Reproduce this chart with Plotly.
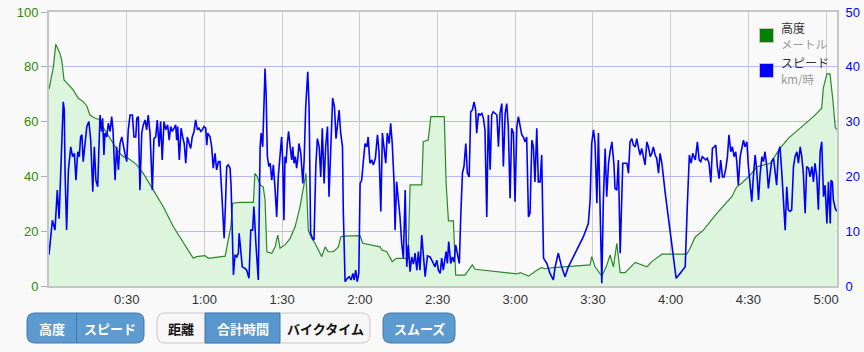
import plotly.graph_objects as go

# ---------------- data ----------------
tick_vals = [30, 60, 90, 120, 150, 180, 210, 240, 270, 300]
tick_text = ["0:30", "1:00", "1:30", "2:00", "2:30", "3:00", "3:30", "4:00", "4:30", "5:00"]

# elevation (m) vs elapsed time (min)
elev_t = [
    0.0, 1.0, 1.7, 2.6, 4.2, 4.9, 5.8, 6.8, 9.4, 11.3,
    13.2, 14.6, 15.8, 17.8, 19.4, 20.3, 22.3, 24.8, 26.8, 28.7,
    30.6, 33.9, 36.4, 40.3, 44.1, 48.0, 51.9, 55.7, 57.0, 60.2,
    61.5, 67.3, 68.0, 69.2, 70.2, 70.9, 73.7, 78.9, 79.5, 80.3,
    81.5, 82.7, 83.4, 84.1, 86.0, 87.3, 88.3, 89.2, 91.1, 93.1,
    95.0, 96.9, 98.2, 99.2, 100.1, 101.4, 102.7, 104.0, 105.3, 106.6,
    107.8, 109.8, 111.7, 112.7, 113.6, 120.1, 121.1, 127.8, 128.5, 130.4,
    132.5, 134.2, 137.5, 138.6, 139.4, 143.9, 144.5, 146.4, 147.4, 152.6,
    153.3, 154.2, 156.1, 157.0, 160.6, 163.4, 164.5, 180.6, 181.9, 185.1,
    188.9, 190.2, 191.5, 194.7, 208.9, 209.5, 210.8, 213.4, 215.1, 216.6,
    217.9, 219.2, 220.5, 222.4, 226.3, 230.8, 232.7, 236.6, 246.2, 247.5,
    249.4, 252.6, 257.8, 263.6, 265.5, 267.5, 270.7, 273.2, 278.4, 282.2,
    285.4, 291.2, 295.1, 298.3, 298.9, 300.3, 301.5, 302.6, 303.5, 304.1,
]
elev_v = [
    71.8, 77.6, 80.0, 88.2, 84.9, 82.5, 75.2, 74.2, 71.5, 68.5,
    67.3, 65.7, 62.4, 61.2, 60.8, 58.8, 55.7, 52.1, 49.0, 47.2,
    46.6, 44.2, 41.1, 35.0, 28.9, 21.6, 15.6, 10.1, 10.7, 11.1,
    10.1, 10.7, 10.9, 16.8, 21.6, 30.2, 30.5, 30.5, 41.1, 40.0,
    36.9, 36.2, 31.4, 12.5, 11.9, 14.3, 18.6, 13.8, 15.0, 17.4,
    21.6, 28.9, 36.2, 41.1, 20.4, 17.4, 15.6, 13.1, 10.7, 14.3,
    12.5, 12.5, 14.3, 18.0, 18.2, 18.4, 15.6, 14.3, 13.1, 12.5,
    8.9, 10.1, 10.1, 10.1, 36.9, 36.9, 52.7, 53.3, 61.8, 61.8,
    37.5, 23.8, 23.8, 4.0, 4.0, 7.7, 6.1, 4.4, 4.9, 3.6,
    6.1, 6.7, 6.3, 6.7, 7.7, 10.7, 7.0, 3.6, 7.0, 11.3,
    7.0, 15.6, 4.9, 4.9, 8.6, 7.0, 8.9, 11.6, 11.6, 13.8,
    17.8, 20.4, 26.5, 32.6, 36.2, 37.6, 40.5, 43.5, 44.8, 50.2,
    53.9, 58.8, 61.8, 64.9, 72.1, 77.4, 77.4, 67.9, 58.1, 57.0,
]

# speed (km/h) vs elapsed time (min)
speed_t = [
    0.0, 1.3, 2.3, 3.2, 3.9, 4.5, 4.9, 5.5, 5.9, 6.2,
    6.8, 7.5, 8.4, 9.1, 9.8, 10.4, 11.1, 11.7, 12.2, 12.7,
    13.2, 13.9, 14.6, 15.4, 16.1, 16.9, 17.5, 18.1, 18.8, 19.7,
    20.3, 20.7, 21.2, 21.6, 22.3, 22.9, 23.6, 24.2, 24.7, 25.5,
    26.1, 26.8, 27.4, 28.1, 28.7, 29.3, 30.0, 30.6, 31.3, 32.2,
    32.8, 33.5, 33.9, 34.5, 35.1, 35.8, 36.4, 37.1, 37.7, 38.3,
    39.0, 39.9, 40.5, 41.2, 41.8, 42.5, 43.1, 43.7, 44.4, 45.1,
    45.8, 46.4, 47.0, 47.6, 48.3, 48.9, 49.3, 49.7, 50.3, 51.0,
    51.6, 52.2, 52.8, 53.4, 54.1, 54.7, 55.3, 56.0, 56.6, 57.3,
    57.9, 58.6, 59.2, 59.8, 60.5, 60.9, 61.3, 62.2, 62.8, 63.4,
    64.1, 64.7, 65.4, 66.0, 66.7, 67.6, 68.1, 68.6, 69.2, 69.9,
    70.3, 70.7, 71.2, 71.8, 72.5, 73.1, 73.4, 74.0, 74.6, 75.7,
    76.3, 77.2, 77.9, 78.6, 79.1, 79.9, 80.8, 81.5, 81.9, 82.5,
    83.4, 83.8, 84.3, 84.9, 85.4, 86.0, 86.6, 87.3, 87.9, 88.5,
    89.2, 89.8, 90.2, 90.7, 91.1, 91.5, 92.0, 92.5, 93.1, 93.7,
    94.1, 94.6, 95.1, 95.6, 96.0, 96.5, 97.2, 98.0, 98.5, 99.1,
    99.9, 100.4, 101.0, 101.7, 102.3, 103.0, 103.6, 104.3, 104.9, 105.5,
    106.2, 106.8, 107.5, 108.1, 108.8, 109.5, 110.2, 110.8, 111.3, 112.0,
    112.6, 113.3, 113.6, 114.3, 115.2, 115.9, 116.6, 117.3, 117.8, 118.4,
    119.0, 119.6, 120.1, 120.7, 121.4, 122.0, 122.7, 123.2, 123.9, 124.6,
    125.2, 126.0, 126.8, 127.4, 128.1, 128.7, 129.3, 130.0, 130.6, 131.3,
    131.9, 132.5, 133.2, 133.6, 134.2, 134.9, 135.5, 136.2, 136.8, 137.5,
    138.1, 138.7, 139.4, 140.0, 140.7, 141.3, 142.0, 142.6, 143.2, 143.9,
    144.5, 145.2, 146.1, 147.1, 148.1, 149.0, 149.7, 150.3, 151.0, 151.6,
    152.2, 152.6, 153.3, 153.8, 154.3, 155.1, 155.7, 156.4, 157.0, 157.6,
    158.4, 159.0, 159.6, 160.2, 160.9, 161.5, 162.2, 162.8, 163.4, 164.1,
    164.7, 165.1, 165.8, 166.4, 167.1, 167.7, 168.3, 169.0, 169.6, 170.3,
    170.9, 171.5, 172.2, 172.9, 173.5, 174.1, 174.8, 175.4, 176.1, 176.7,
    177.3, 178.0, 178.6, 179.3, 179.9, 180.6, 181.2, 181.9, 182.5, 183.1,
    183.8, 184.4, 185.1, 185.7, 186.4, 187.0, 187.6, 188.3, 188.9, 189.6,
    190.2, 190.9, 192.2, 193.4, 194.7, 195.4, 196.6, 197.9, 199.2, 200.5,
    202.4, 204.4, 206.3, 208.2, 208.9, 209.5, 210.2, 210.8, 211.5, 212.1,
    212.7, 213.4, 214.0, 214.7, 215.3, 216.0, 216.6, 217.3, 218.1, 218.5,
    219.2, 219.8, 220.5, 221.5, 222.4, 223.1, 223.7, 224.3, 225.0, 225.6,
    226.3, 226.9, 227.6, 228.2, 228.8, 229.5, 230.1, 230.8, 231.4, 232.1,
    232.7, 233.3, 234.0, 234.6, 235.3, 235.9, 236.6, 237.9, 239.8, 241.0,
    242.1, 243.6, 245.6, 246.4, 247.2, 247.9, 248.5, 249.0, 249.5, 250.3,
    251.0, 251.6, 252.2, 252.9, 253.5, 254.1, 254.8, 255.5, 256.1, 256.8,
    257.4, 258.0, 258.7, 259.3, 260.0, 260.6, 261.3, 261.9, 262.5, 263.2,
    263.8, 264.5, 265.1, 265.5, 266.1, 266.8, 267.4, 268.1, 268.7, 269.4,
    270.0, 270.7, 271.3, 271.9, 272.6, 273.2, 273.9, 274.5, 275.2, 275.8,
    276.4, 277.1, 277.7, 278.4, 279.0, 279.7, 280.3, 280.9, 281.6, 282.2,
    282.9, 283.5, 284.2, 284.8, 285.4, 286.1, 286.7, 287.4, 288.0, 288.7,
    289.3, 290.0, 290.6, 291.2, 291.9, 292.5, 293.2, 293.8, 294.5, 295.1,
    295.7, 296.4, 297.0, 297.7, 298.3, 299.0, 299.6, 300.3, 300.9, 301.6,
    301.9, 302.4, 302.8, 303.5, 304.1,
]
speed_v = [
    5.7, 12.0, 10.2, 17.5, 12.3, 21.8, 23.6, 33.6, 32.1, 20.6,
    10.2, 21.2, 25.4, 23.6, 24.2, 19.3, 24.5, 23.6, 27.2, 27.6,
    22.7, 26.0, 29.1, 30.0, 26.6, 17.2, 25.4, 19.3, 18.1, 31.2,
    28.2, 30.6, 23.9, 27.9, 27.2, 29.7, 28.2, 30.9, 28.5, 19.3,
    25.4, 21.2, 26.0, 27.2, 26.0, 24.2, 22.7, 28.5, 31.2, 31.2,
    27.2, 27.2, 30.6, 30.9, 17.5, 27.9, 29.4, 30.3, 28.5, 31.2,
    27.9, 17.5, 26.9, 27.2, 30.3, 25.4, 30.0, 23.0, 30.0, 28.5,
    29.4, 26.6, 29.1, 28.2, 28.8, 29.4, 26.6, 29.1, 23.0, 28.8,
    27.2, 26.0, 22.4, 27.2, 26.0, 25.1, 27.2, 28.2, 30.3, 28.5,
    28.8, 28.2, 28.5, 29.1, 28.8, 25.7, 27.9, 27.2, 25.4, 21.5,
    24.2, 21.2, 22.7, 22.7, 16.9, 8.7, 14.5, 21.8, 22.1, 21.5,
    18.1, 9.6, 2.0, 5.7, 5.3, 6.0, 9.6, 6.6, 3.5, 3.2,
    2.9, 1.4, 10.2, 10.2, 14.5, 7.5, 1.1, 25.4, 27.9, 25.4,
    39.7, 35.2, 23.6, 21.8, 22.4, 19.3, 22.1, 17.5, 12.6, 19.9,
    24.2, 27.2, 23.0, 12.0, 23.6, 22.4, 26.0, 28.2, 25.4, 23.0,
    25.4, 22.4, 23.6, 21.5, 23.0, 26.0, 24.2, 18.7, 23.0, 32.7,
    39.1, 32.7, 9.6, 8.7, 8.4, 21.8, 26.9, 25.4, 19.9, 28.8,
    18.7, 25.4, 29.1, 16.3, 25.4, 34.3, 32.7, 26.9, 29.1, 32.1,
    27.9, 25.4, 13.9, 0.8, 1.4, 1.7, 1.1, 2.3, 1.1, 2.9,
    0.8, 2.3, 18.7, 19.3, 23.0, 26.0, 25.4, 27.2, 22.4, 23.0,
    22.1, 23.3, 27.6, 24.5, 13.6, 27.9, 25.4, 22.4, 27.9, 26.0,
    29.7, 26.0, 19.0, 10.2, 19.0, 15.7, 12.6, 7.5, 5.1, 17.5,
    3.5, 7.5, 2.6, 5.3, 4.0, 6.0, 2.9, 6.3, 2.9, 9.3,
    6.0, 1.7, 5.5, 5.3, 4.4, 3.5, 4.7, 2.9, 2.3, 5.1,
    2.9, 4.1, 6.3, 4.1, 8.1, 4.1, 5.3, 4.4, 7.5, 6.0,
    4.1, 13.3, 20.6, 21.8, 26.0, 20.6, 19.9, 31.8, 32.1, 33.6,
    32.1, 27.9, 31.5, 31.2, 31.5, 30.6, 28.5, 12.6, 31.2, 21.2,
    31.2, 31.8, 31.5, 31.2, 25.4, 31.5, 33.3, 21.8, 31.5, 33.3,
    29.1, 16.0, 28.8, 27.9, 15.4, 29.1, 30.9, 29.1, 27.6, 27.2,
    26.3, 27.2, 12.6, 13.3, 26.6, 25.4, 19.0, 28.8, 19.0, 19.0,
    23.9, 5.1, 4.1, 2.3, 1.1, 3.5, 6.0, 3.5, 1.7, 3.5,
    5.3, 7.2, 9.0, 11.4, 15.7, 26.0, 28.5, 26.0, 15.1, 27.9,
    15.7, 0.5, 15.7, 25.1, 16.3, 22.4, 24.5, 26.3, 22.1, 17.8,
    17.5, 23.0, 6.0, 22.4, 22.4, 22.4, 20.6, 26.3, 26.9, 25.7,
    25.4, 26.9, 25.1, 23.9, 25.1, 23.3, 22.1, 26.3, 25.4, 23.6,
    24.2, 25.4, 23.9, 23.3, 20.6, 24.2, 22.4, 16.9, 10.2, 5.3,
    1.4, 2.3, 3.5, 14.5, 23.9, 22.4, 24.2, 23.6, 23.0, 26.3,
    23.0, 22.7, 23.6, 23.3, 23.0, 23.3, 22.4, 18.9, 25.1, 25.4,
    25.7, 21.8, 19.6, 23.0, 19.9, 19.9, 21.5, 23.6, 27.6, 24.5,
    25.4, 23.6, 24.5, 22.7, 18.4, 23.6, 24.8, 26.6, 25.4, 26.3,
    21.8, 17.8, 15.4, 19.9, 23.9, 21.2, 15.7, 20.3, 23.6, 22.7,
    24.5, 21.8, 17.8, 20.6, 22.7, 23.3, 21.2, 18.4, 24.5, 25.4,
    20.6, 15.1, 10.2, 18.1, 13.9, 13.6, 13.9, 21.8, 23.6, 24.5,
    22.4, 25.4, 23.6, 20.6, 13.3, 21.8, 21.5, 19.9, 21.8, 19.0,
    22.4, 19.9, 13.9, 24.5, 26.3, 16.3, 18.4, 11.4, 19.0, 11.4,
    19.3, 19.0, 15.7, 14.2, 13.6,
]

legend_items = [("高度", "メートル", "#008000"), ("スピード", "km/時", "#0000ff")]
button_labels = ["高度", "スピード", "距離", "合計時間", "バイクタイム", "スムーズ"]

# ---------------- layout helpers (pixel -> paper) ----------------
ML, MR, MT, MB = 49, 27, 12, 66
W, H = 864, 352
PW, PH = W - ML - MR, H - MT - MB


def X(p):
    return (p - ML) / PW


def Y(p):
    return (H - MB - p) / PH


def rrect(x0, y0, x1, y1, r):
    pts = [
        f"M {X(x0 + r)},{Y(y0)}",
        f"L {X(x1 - r)},{Y(y0)}",
        f"Q {X(x1)},{Y(y0)} {X(x1)},{Y(y0 + r)}",
        f"L {X(x1)},{Y(y1 - r)}",
        f"Q {X(x1)},{Y(y1)} {X(x1 - r)},{Y(y1)}",
        f"L {X(x0 + r)},{Y(y1)}",
        f"Q {X(x0)},{Y(y1)} {X(x0)},{Y(y1 - r)}",
        f"L {X(x0)},{Y(y0 + r)}",
        f"Q {X(x0)},{Y(y0)} {X(x0 + r)},{Y(y0)}",
        "Z",
    ]
    return " ".join(pts)


BG = "#f9f9f9"
AXFONT = "Liberation Sans, Arial, sans-serif"
JPFONT = "Noto Sans CJK JP, sans-serif"

fig = go.Figure()
fig.add_trace(go.Scatter(
    x=elev_t, y=elev_v, mode="lines", name="高度",
    line=dict(color="#2a872a", width=1.2),
    fill="tozeroy", fillcolor="#ddf5dd", yaxis="y",
))
fig.add_trace(go.Scatter(
    x=speed_t, y=speed_v, mode="lines", name="スピード",
    line=dict(color="#0000ff", width=1.6), yaxis="y2",
))

shapes = []
annotations = []

# legend box
shapes.append(dict(type="rect", xref="paper", yref="paper", layer="between",
                   x0=X(756), x1=X(831), y0=Y(86), y1=Y(19),
                   fillcolor=BG, line=dict(width=0)))
for i, (name, unit, col) in enumerate(legend_items):
    top = 28.5 + 35 * i
    shapes.append(dict(type="rect", xref="paper", yref="paper", layer="above",
                       x0=X(759.5), x1=X(773.5), y0=Y(top + 14), y1=Y(top),
                       fillcolor=col, line=dict(color="#c0c0c0", width=1)))
    annotations.append(dict(
        xref="paper", yref="paper", x=X(779), y=Y(top + 7),
        text=f"{name}<br><span style='color:#9a9a9a;font-size:11.5px'>{unit}</span>",
        showarrow=False, xanchor="left", yanchor="middle", align="left",
        font=dict(family=JPFONT, size=12, color="#333333")))

# buttons
BLUE = "#5c9ad0"
BLUE_LINE = "#3d79b0"
by0, by1 = 313, 343
shapes.append(dict(type="path", xref="paper", yref="paper", layer="above",
                   path=rrect(27, by0, 144, by1, 8), fillcolor=BLUE,
                   line=dict(color=BLUE_LINE, width=1)))
shapes.append(dict(type="line", xref="paper", yref="paper", layer="above",
                   x0=X(76.5), x1=X(76.5), y0=Y(by0), y1=Y(by1),
                   line=dict(color=BLUE_LINE, width=1)))
shapes.append(dict(type="path", xref="paper", yref="paper", layer="above",
                   path=rrect(157, by0, 370, by1, 8), fillcolor="#f6f6f6",
                   line=dict(color="#c8c8c8", width=1)))
shapes.append(dict(type="rect", xref="paper", yref="paper", layer="above",
                   x0=X(205), x1=X(280), y0=Y(by1), y1=Y(by0),
                   fillcolor="#5896cc", line=dict(color=BLUE_LINE, width=1)))
shapes.append(dict(type="path", xref="paper", yref="paper", layer="above",
                   path=rrect(383, by0, 455, by1, 8), fillcolor=BLUE,
                   line=dict(color=BLUE_LINE, width=1)))

btn_centers = [51.5, 110, 181, 242.5, 325, 419]
btn_colors = ["white", "white", "#111111", "white", "#111111", "white"]
for lab, cx, c in zip(button_labels, btn_centers, btn_colors):
    annotations.append(dict(xref="paper", yref="paper", x=X(cx), y=Y(328),
                            text=f"<b>{lab}</b>", showarrow=False,
                            xanchor="center", yanchor="middle",
                            font=dict(family=JPFONT, size=13, color=c)))

fig.update_layout(
    width=W, height=H,
    margin=dict(l=ML, r=MR, t=MT, b=MB, autoexpand=False),
    paper_bgcolor=BG, plot_bgcolor=BG,
    showlegend=False,
    hovermode=False,
    xaxis=dict(range=[0, 304.2], tickvals=tick_vals, ticktext=tick_text,
               automargin=False,
               showgrid=True, gridcolor="#cccccc", gridwidth=1, zeroline=False,
               showline=True, mirror=True, linecolor="#c6c6c6", linewidth=2,
               ticks="", tickfont=dict(family=AXFONT, size=13, color="#333333")),
    yaxis=dict(range=[0, 100], tickvals=[0, 20, 40, 60, 80, 100],
               automargin=False,
               showgrid=True, gridcolor="#b8b8f6", gridwidth=1, zeroline=False,
               showline=True, mirror=True, linecolor="#c6c6c6", linewidth=2,
               ticks="outside", ticklen=6, tickcolor="#b0b0b0",
               tickfont=dict(family=AXFONT, size=13, color="#2e8b00")),
    yaxis2=dict(range=[0, 50], tickvals=[0, 10, 20, 30, 40, 50], overlaying="y",
                automargin=False,
                side="right", showgrid=False, zeroline=False, showline=False,
                ticks="outside", ticklen=5, tickcolor="rgba(0,0,0,0)",
                tickfont=dict(family=AXFONT, size=13, color="#0000ff")),
    shapes=shapes,
    annotations=annotations,
)

fig.write_html("out.html", config={"displayModeBar": False})
